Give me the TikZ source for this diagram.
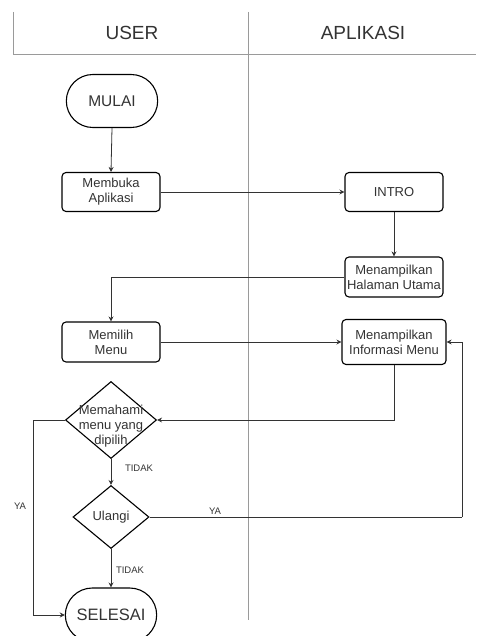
\documentclass[tikz,border=0pt]{standalone}
\usepackage{fontspec}
\setmainfont{Liberation Sans}
\usetikzlibrary{shapes.geometric,shapes.misc,arrows.meta,calc}
\definecolor{txt}{HTML}{333333}
\definecolor{lanec}{HTML}{9A9A9A}
\begin{document}
\begin{tikzpicture}[x=1pt,y=-1pt,
  lane/.style={draw=lanec,line width=1pt},
  procbox/.style={draw=black,line width=1.1pt,rounded corners=4pt,minimum width=98pt,minimum height=39pt,inner sep=1pt,align=center,text=txt,font=\fontsize{13}{15}\selectfont},
  pill/.style={draw=black,line width=1.1pt,rounded rectangle,minimum width=98pt,minimum height=53pt,text=txt},
  dec/.style={draw=black,line width=1.1pt,diamond,inner sep=0pt},
  dtext/.style={align=center,text=txt,inner sep=0pt,font=\fontsize{13}{15}\selectfont},
  lbl/.style={text=txt,inner sep=0pt,font=\fontsize{9.5}{11}\selectfont},
  head/.style={text=txt,font=\fontsize{19}{22}\selectfont},
  arr/.style={draw=txt,line width=0.8pt,-{Stealth[length=5pt,width=5pt]}},
  conn/.style={draw=txt,line width=0.8pt}]
\useasboundingbox (0,0) rectangle (476,636);
\clip (0,0) rectangle (476,636);
% lanes
\draw[lane] (13,12) -- (13,55) -- (476,55);
\draw[lane] (248,12) -- (248,620);
\node[head] (huser) at (132,33) {USER};
\node[head] (happ) at (363,33) {APLIKASI};
% nodes
\node[pill,font=\fontsize{15.5}{18}\selectfont] (mulai) at (112,101) {MULAI};
\node[procbox] (buka) at (111,192) {Membuka\\Aplikasi};
\node[procbox] (intro) at (394,192) {INTRO};
\node[procbox,minimum height=40pt] (hal) at (394,277) {Menampilkan\\Halaman Utama};
\node[procbox,minimum height=40pt] (pilih) at (111,342) {Memilih\\Menu};
\node[procbox,minimum width=104pt,minimum height=45pt] (info) at (394,342) {Menampilkan\\Informasi Menu};
\node[dec,minimum width=91pt,minimum height=77pt] (paham) at (111,420) {};
\node[dtext] (pahamt) at (111,426) {Memahami\\menu yang\\dipilih};
\node[dec,minimum width=76pt,minimum height=63pt] (ulang) at (111,517) {};
\node[dtext] (ulangt) at (111,517) {Ulangi};
\node[pill,minimum height=54pt,font=\fontsize{16.5}{19}\selectfont] (sel) at (111,615) {SELESAI};
% helper coordinates
\coordinate (loopc) at (462,517);
\coordinate (yac) at (33,420);
% connectors
\draw[arr] (mulai.south) -- (buka.north);
\draw[arr] (buka.east) -- (intro.west);
\draw[arr] (intro.south) -- (hal.north);
\draw[arr] (hal.west) -| (pilih.north);
\draw[arr] (pilih.east) -- (info.west);
\draw[arr] (info.south) |- (paham.east);
\draw[arr] (paham.south) -- (ulang.north);
\draw[arr] (ulang.south) -- (sel.north);
\draw[conn] (ulang.east) -- (loopc);
\draw[arr] (loopc) |- (info.east);
\draw[conn] (paham.west) -- (yac);
\draw[arr] (yac) |- (sel.west);
% labels
\node[lbl] (l1) at (139,468) {TIDAK};
\node[lbl] (l2) at (130,570) {TIDAK};
\node[lbl] (l3) at (20,506) {YA};
\node[lbl] (l4) at (215,511) {YA};
\end{tikzpicture}
\end{document}
